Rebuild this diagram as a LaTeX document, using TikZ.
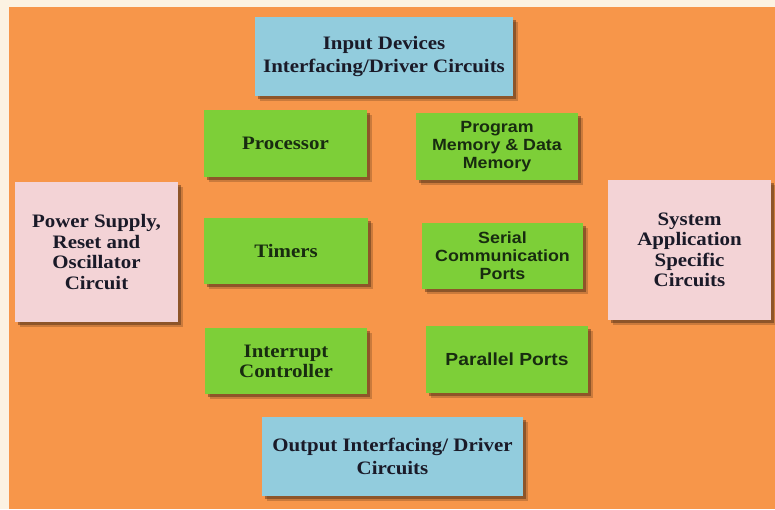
\documentclass[tikz,border=0pt]{standalone}
\usepackage{fontspec}
\newfontfamily\serb[FakeStretch=1.1]{Liberation Serif}
\newfontfamily\sanb[FakeStretch=1.1]{Liberation Sans}
\usetikzlibrary{shadows}
\definecolor{bgorange}{RGB}{247,150,74}
\definecolor{cream}{RGB}{252,242,226}
\definecolor{boxblue}{RGB}{146,204,221}
\definecolor{boxgreen}{RGB}{125,207,56}
\definecolor{boxpink}{RGB}{243,211,214}
\definecolor{txtdark}{RGB}{26,26,40}
\definecolor{txtgreen}{RGB}{24,44,16}
\definecolor{shadowc}{RGB}{70,40,20}
\tikzset{
  blk/.style={rectangle, inner sep=0pt, align=center,
    drop shadow={shadow xshift=4.5pt, shadow yshift=-4.5pt, opacity=0.25, fill=shadowc},
    drop shadow={shadow xshift=3pt, shadow yshift=-3pt, opacity=0.45, fill=shadowc}},
  bluebox/.style={blk, fill=boxblue, text=txtdark, font=\serb\bfseries\fontsize{19}{23}\selectfont},
  pinkbox/.style={blk, fill=boxpink, text=txtdark, font=\serb\bfseries\fontsize{19}{20.5}\selectfont},
  greenser/.style={blk, fill=boxgreen, text=txtgreen, font=\serb\bfseries\fontsize{19}{20}\selectfont},
  greensan/.style={blk, fill=boxgreen, text=txtgreen, font=\sanb\bfseries\fontsize{16.2}{18}\selectfont},
  greensanbig/.style={blk, fill=boxgreen, text=txtgreen, font=\sanb\bfseries\fontsize{17.5}{19}\selectfont},
}
\begin{document}
\begin{tikzpicture}[x=1pt,y=-1pt]
\fill[cream] (0,0) rectangle (775,509);
\fill[bgorange] (9,7) rectangle (775,509);
\useasboundingbox (0,0) rectangle (775,509);

\node[bluebox, minimum width=258pt, minimum height=79pt] (inp) at (384,56.5) {Input Devices\\Interfacing/Driver Circuits};
\node[greenser, minimum width=163pt, minimum height=67pt] (proc) at (285.5,143.5) {Processor};
\node[greensan, minimum width=162pt, minimum height=67pt] (pmem) at (497,146.5) {Program\\Memory \& Data\\Memory};
\node[pinkbox, minimum width=163pt, minimum height=140pt] (pwr) at (96.5,252) {Power Supply,\\Reset and\\Oscillator\\Circuit};
\node[greenser, minimum width=164pt, minimum height=66pt] (tim) at (286,251) {Timers};
\node[greensan, minimum width=161pt, minimum height=66pt] (ser) at (502.5,256) {Serial\\Communication\\Ports};
\node[pinkbox, minimum width=163pt, minimum height=140pt] (sys) at (689.5,250) {System\\Application\\Specific\\Circuits};
\node[greenser, minimum width=162pt, minimum height=66pt] (intr) at (286,361) {Interrupt\\Controller};
\node[greensanbig, minimum width=162pt, minimum height=67pt] (par) at (507,359.5) {Parallel Ports};
\node[bluebox, minimum width=261pt, minimum height=79pt] (out) at (392.5,456.5) {Output Interfacing/ Driver\\Circuits};
\end{tikzpicture}
\end{document}
